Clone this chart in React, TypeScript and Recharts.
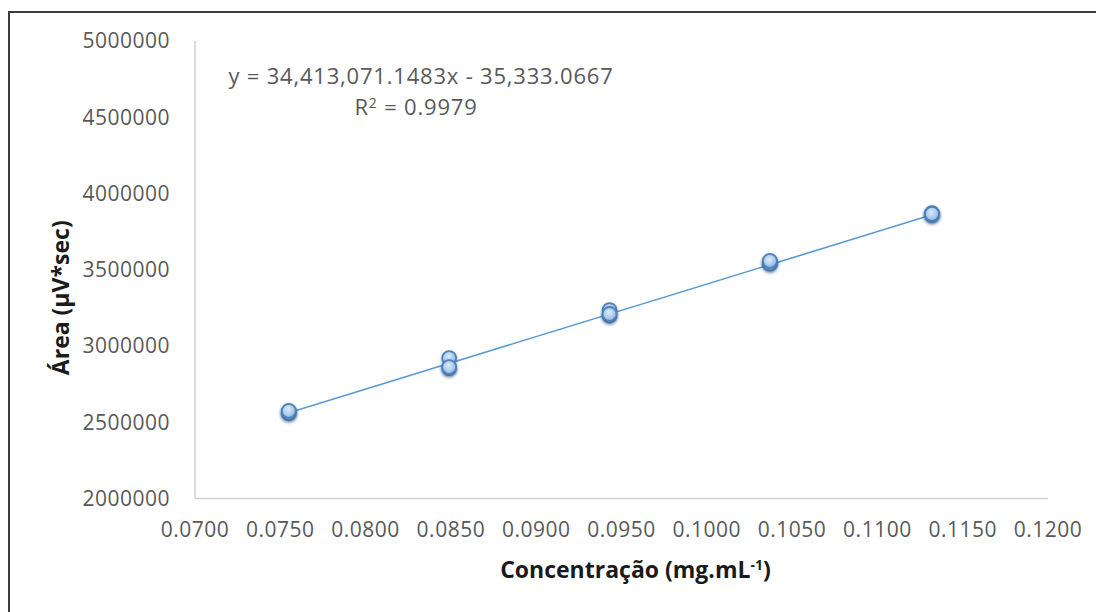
import React from 'react';
import {
  ScatterChart,
  Scatter,
  XAxis,
  YAxis,
  Customized,
} from 'recharts';

// concentration (mg/mL) of each injection, three replicates per level
const CONCENTRATIONS = [
  0.0755, 0.0755, 0.0755,
  0.0849, 0.0849, 0.0849,
  0.0943, 0.0943, 0.0943,
  0.1037, 0.1037, 0.1037,
  0.1132, 0.1132, 0.1132,
];

// peak area (µV*sec)
const AREAS = [
  2570000, 2560000, 2575000,
  2921000, 2855000, 2862000,
  3235000, 3200000, 3210000,
  3550000, 3540000, 3558000,
  3871000, 3860000, 3866000,
];

const X_TICKS = [0.07, 0.075, 0.08, 0.085, 0.09, 0.095, 0.1, 0.105, 0.11, 0.115, 0.12];
const Y_TICKS = [2000000, 2500000, 3000000, 3500000, 4000000, 4500000, 5000000];

// fitted line as printed on the chart
const SLOPE = 34413071.1483;
const INTERCEPT = -35333.0667;
const R2 = '0.9979';

const FONT = "'Open Sans', 'Liberation Sans', sans-serif";
const TICK_COLOR = '#595959';
const AXIS_COLOR = '#d0d0d0';
const SERIES_COLOR = '#5b9bd5';

const points = CONCENTRATIONS.map((x, i) => ({ x, y: AREAS[i] }));
const xMin = Math.min(...CONCENTRATIONS);
const xMax = Math.max(...CONCENTRATIONS);
const trend = [xMin, xMax].map((x) => ({ x, y: SLOPE * x + INTERCEPT }));

const fmtNum = (v: number) =>
  v.toLocaleString('en-US', { minimumFractionDigits: 4, maximumFractionDigits: 4 });

const tickStyle = { fill: TICK_COLOR, fontSize: 21, fontFamily: FONT, letterSpacing: 0.5 };

function Marker(props: any) {
  const { cx, cy } = props;
  if (cx == null || cy == null) return <g />;
  return (
    <circle
      cx={cx}
      cy={cy}
      r={7}
      fill="url(#ptFill)"
      stroke="#4f81bd"
      strokeWidth={1.8}
      filter="url(#ptShadow)"
    />
  );
}

function NoMarker() {
  return <g />;
}

function Decorations() {
  return (
    <g>
      <defs>
        <radialGradient id="ptFill" cx="45%" cy="40%" r="60%">
          <stop offset="0%" stopColor="#dbeaf8" />
          <stop offset="70%" stopColor="#a7c8ea" />
          <stop offset="100%" stopColor="#7fa9d8" />
        </radialGradient>
        <filter id="ptShadow" x="-50%" y="-50%" width="200%" height="200%">
          <feDropShadow dx="0" dy="1.5" stdDeviation="1.5" floodColor="#1f3f66" floodOpacity="0.45" />
        </filter>
      </defs>
      <text
        x={421}
        y={84}
        textAnchor="middle"
        fill={TICK_COLOR}
        fontSize={22}
        fontFamily={FONT}
        letterSpacing={0.8}
      >
        {`y = ${SLOPE.toLocaleString('en-US', { minimumFractionDigits: 4 })}x - ${Math.abs(
          INTERCEPT
        ).toLocaleString('en-US', { minimumFractionDigits: 4 })}`}
      </text>
      <text
        x={416}
        y={115}
        textAnchor="middle"
        fill={TICK_COLOR}
        fontSize={22}
        fontFamily={FONT}
        letterSpacing={0.8}
      >
        R
        <tspan dy={-7} fontSize={14}>2</tspan>
        <tspan dy={7}>{` = ${R2}`}</tspan>
      </text>
    </g>
  );
}

function YTitle(props: any) {
  const vb = props.viewBox || { x: 0, y: 0, width: 0, height: 0 };
  const cx = vb.x + 60;
  const cy = vb.y + vb.height / 2 + 28;
  return (
    <text
      x={cx}
      y={cy}
      transform={`rotate(-90 ${cx} ${cy})`}
      textAnchor="middle"
      dominantBaseline="central"
      fill="#1a1a1a"
      fontSize={23}
      fontWeight="bold"
      fontFamily={FONT}
    >
      Área (µV*sec)
    </text>
  );
}

function XTitle(props: any) {
  const vb = props.viewBox || { x: 0, y: 0, width: 0, height: 0 };
  const cx = vb.x + vb.width / 2 + 14;
  const cy = vb.y + 79.5;
  return (
    <text
      x={cx}
      y={cy}
      textAnchor="middle"
      fill="#1a1a1a"
      fontSize={23}
      fontWeight="bold"
      fontFamily={FONT}
    >
      Concentração (mg.mL
      <tspan dy={-8} fontSize={14}>-1</tspan>
      <tspan dy={8}>)</tspan>
    </text>
  );
}

export default function App() {
  return (
    <div style={{ position: 'absolute', left: 0, top: 0, width: 1096, height: 612, background: '#fff' }}>
      <div
        style={{
          position: 'absolute',
          left: 8,
          top: 11,
          width: 1100,
          height: 620,
          borderTop: '2px solid #3c3c3c',
          borderLeft: '2px solid #3c3c3c',
        }}
      />
      <div style={{ position: 'absolute', left: 0, top: 0 }}>
        <ScatterChart width={1096} height={612} margin={{ top: 41, right: 48, bottom: 0, left: 0 }}>
          <XAxis
            type="number"
            dataKey="x"
            domain={[0.07, 0.12]}
            ticks={X_TICKS}
            tickFormatter={fmtNum}
            allowDataOverflow
            height={113.5}
            stroke={AXIS_COLOR}
            strokeWidth={1.5}
            tickLine={false}
            tickSize={0}
            tickMargin={24}
            tick={tickStyle}
            label={{ content: XTitle }}
          />
          <YAxis
            type="number"
            dataKey="y"
            domain={[2000000, 5000000]}
            ticks={Y_TICKS}
            tickFormatter={(v: number) => String(v)}
            allowDataOverflow
            width={195}
            stroke={AXIS_COLOR}
            strokeWidth={1.5}
            tickLine={false}
            tickSize={0}
            tickMargin={25}
            tick={tickStyle}
            label={{ content: YTitle }}
          />
          <Customized component={<Decorations />} />
          <Scatter
            data={trend}
            line={{ stroke: SERIES_COLOR, strokeWidth: 1.6 }}
            shape={<NoMarker />}
            isAnimationActive={false}
          />
          <Scatter data={points} shape={<Marker />} isAnimationActive={false} />
        </ScatterChart>
      </div>
    </div>
  );
}
